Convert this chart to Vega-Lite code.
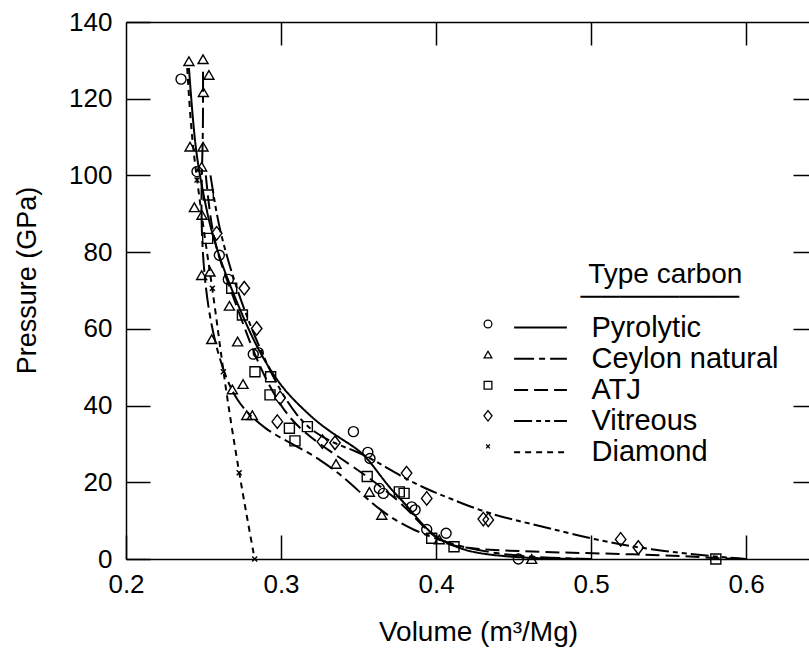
{
  "$schema": "https://vega.github.io/schema/vega-lite/v6.json",
  "width": 683,
  "height": 537,
  "autosize": {"type": "none"},
  "padding": {"left": 126, "top": 22, "right": 0, "bottom": 90},
  "background": "white",
  "config": {
    "view": {"stroke": null},
    "font": "Liberation Sans",
    "axis": {
      "grid": false,
      "domainColor": "black",
      "domainWidth": 1.5,
      "tickColor": "black",
      "tickWidth": 1.5,
      "labelColor": "black",
      "titleColor": "black",
      "labelFont": "Liberation Sans",
      "titleFont": "Liberation Sans",
      "labelFontSize": 26,
      "titleFontSize": 27,
      "titleFontWeight": "normal",
      "labelFlush": false,
      "labelOverlap": false
    }
  },
  "datasets": {
    "pts": [
      {"series": "pyrolytic", "v": 0.2355, "p": 125.1},
      {"series": "pyrolytic", "v": 0.2458, "p": 101.0},
      {"series": "pyrolytic", "v": 0.2602, "p": 79.2},
      {"series": "pyrolytic", "v": 0.266, "p": 72.9},
      {"series": "pyrolytic", "v": 0.2821, "p": 53.4},
      {"series": "pyrolytic", "v": 0.2853, "p": 53.8},
      {"series": "pyrolytic", "v": 0.3467, "p": 33.2},
      {"series": "pyrolytic", "v": 0.356, "p": 27.8},
      {"series": "pyrolytic", "v": 0.3574, "p": 26.2},
      {"series": "pyrolytic", "v": 0.3634, "p": 18.4},
      {"series": "pyrolytic", "v": 0.366, "p": 17.1},
      {"series": "pyrolytic", "v": 0.3843, "p": 13.6},
      {"series": "pyrolytic", "v": 0.3865, "p": 12.8},
      {"series": "pyrolytic", "v": 0.394, "p": 7.7},
      {"series": "pyrolytic", "v": 0.4065, "p": 6.7},
      {"series": "pyrolytic", "v": 0.4531, "p": 0.0},
      {"series": "ceylon natural", "v": 0.2406, "p": 129.8},
      {"series": "ceylon natural", "v": 0.2497, "p": 130.3},
      {"series": "ceylon natural", "v": 0.2535, "p": 126.2},
      {"series": "ceylon natural", "v": 0.2499, "p": 121.7},
      {"series": "ceylon natural", "v": 0.2413, "p": 107.5},
      {"series": "ceylon natural", "v": 0.2497, "p": 107.5},
      {"series": "ceylon natural", "v": 0.2488, "p": 102.3},
      {"series": "ceylon natural", "v": 0.2441, "p": 91.7},
      {"series": "ceylon natural", "v": 0.249, "p": 89.7},
      {"series": "ceylon natural", "v": 0.2488, "p": 74.0},
      {"series": "ceylon natural", "v": 0.2542, "p": 74.9},
      {"series": "ceylon natural", "v": 0.2667, "p": 66.0},
      {"series": "ceylon natural", "v": 0.2553, "p": 57.3},
      {"series": "ceylon natural", "v": 0.272, "p": 56.7},
      {"series": "ceylon natural", "v": 0.2686, "p": 44.2},
      {"series": "ceylon natural", "v": 0.2755, "p": 45.6},
      {"series": "ceylon natural", "v": 0.2779, "p": 37.5},
      {"series": "ceylon natural", "v": 0.2815, "p": 37.5},
      {"series": "ceylon natural", "v": 0.3355, "p": 24.8},
      {"series": "ceylon natural", "v": 0.357, "p": 17.5},
      {"series": "ceylon natural", "v": 0.365, "p": 11.5},
      {"series": "ceylon natural", "v": 0.4021, "p": 5.1},
      {"series": "ceylon natural", "v": 0.4617, "p": 0.0},
      {"series": "atj", "v": 0.2531, "p": 94.9},
      {"series": "atj", "v": 0.2527, "p": 83.6},
      {"series": "atj", "v": 0.2682, "p": 70.6},
      {"series": "atj", "v": 0.2751, "p": 63.6},
      {"series": "atj", "v": 0.2832, "p": 48.8},
      {"series": "atj", "v": 0.2933, "p": 47.5},
      {"series": "atj", "v": 0.2929, "p": 42.8},
      {"series": "atj", "v": 0.3054, "p": 34.1},
      {"series": "atj", "v": 0.317, "p": 34.5},
      {"series": "atj", "v": 0.309, "p": 30.8},
      {"series": "atj", "v": 0.3556, "p": 21.5},
      {"series": "atj", "v": 0.3763, "p": 17.5},
      {"series": "atj", "v": 0.3794, "p": 17.1},
      {"series": "atj", "v": 0.3972, "p": 5.4},
      {"series": "atj", "v": 0.4116, "p": 3.2},
      {"series": "atj", "v": 0.5805, "p": 0.0},
      {"series": "vitreous", "v": 0.2585, "p": 84.9},
      {"series": "vitreous", "v": 0.2763, "p": 70.6},
      {"series": "vitreous", "v": 0.2843, "p": 60.1},
      {"series": "vitreous", "v": 0.2994, "p": 42.0},
      {"series": "vitreous", "v": 0.2976, "p": 35.8},
      {"series": "vitreous", "v": 0.3267, "p": 30.6},
      {"series": "vitreous", "v": 0.3348, "p": 30.3},
      {"series": "vitreous", "v": 0.381, "p": 22.4},
      {"series": "vitreous", "v": 0.394, "p": 15.8},
      {"series": "vitreous", "v": 0.4305, "p": 10.4},
      {"series": "vitreous", "v": 0.4337, "p": 10.2},
      {"series": "vitreous", "v": 0.5191, "p": 5.1},
      {"series": "vitreous", "v": 0.5305, "p": 3.0},
      {"series": "diamond", "v": 0.2458, "p": 98.8},
      {"series": "diamond", "v": 0.2557, "p": 70.6},
      {"series": "diamond", "v": 0.2628, "p": 48.8},
      {"series": "diamond", "v": 0.273, "p": 22.5},
      {"series": "diamond", "v": 0.283, "p": 0.0}
    ],
    "fit": [
      {"type": "Pyrolytic", "v": 0.2406, "p": 128},
      {"type": "Pyrolytic", "v": 0.243, "p": 115},
      {"type": "Pyrolytic", "v": 0.2455, "p": 105},
      {"type": "Pyrolytic", "v": 0.249, "p": 97},
      {"type": "Pyrolytic", "v": 0.254, "p": 87},
      {"type": "Pyrolytic", "v": 0.26, "p": 79},
      {"type": "Pyrolytic", "v": 0.266, "p": 72.5},
      {"type": "Pyrolytic", "v": 0.275, "p": 63.5},
      {"type": "Pyrolytic", "v": 0.2858, "p": 54},
      {"type": "Pyrolytic", "v": 0.2994, "p": 45.2},
      {"type": "Pyrolytic", "v": 0.3123, "p": 39.8},
      {"type": "Pyrolytic", "v": 0.3252, "p": 35},
      {"type": "Pyrolytic", "v": 0.34, "p": 31},
      {"type": "Pyrolytic", "v": 0.352, "p": 28},
      {"type": "Pyrolytic", "v": 0.36, "p": 24},
      {"type": "Pyrolytic", "v": 0.37, "p": 18.5},
      {"type": "Pyrolytic", "v": 0.38, "p": 14.5},
      {"type": "Pyrolytic", "v": 0.39, "p": 9.5},
      {"type": "Pyrolytic", "v": 0.3983, "p": 6.2},
      {"type": "Pyrolytic", "v": 0.408, "p": 4.0},
      {"type": "Pyrolytic", "v": 0.4177, "p": 2.4},
      {"type": "Pyrolytic", "v": 0.43, "p": 1.3},
      {"type": "Pyrolytic", "v": 0.45, "p": 0.5},
      {"type": "Pyrolytic", "v": 0.47, "p": 0.1},
      {"type": "Pyrolytic", "v": 0.5, "p": 0.0},
      {"type": "Ceylon natural", "v": 0.2497, "p": 127},
      {"type": "Ceylon natural", "v": 0.2497, "p": 110},
      {"type": "Ceylon natural", "v": 0.2488, "p": 100},
      {"type": "Ceylon natural", "v": 0.2485, "p": 88},
      {"type": "Ceylon natural", "v": 0.25, "p": 76},
      {"type": "Ceylon natural", "v": 0.2531, "p": 65},
      {"type": "Ceylon natural", "v": 0.2585, "p": 54.5},
      {"type": "Ceylon natural", "v": 0.265, "p": 46.7},
      {"type": "Ceylon natural", "v": 0.2714, "p": 41.5},
      {"type": "Ceylon natural", "v": 0.28, "p": 37.3},
      {"type": "Ceylon natural", "v": 0.29, "p": 34},
      {"type": "Ceylon natural", "v": 0.3, "p": 31.5},
      {"type": "Ceylon natural", "v": 0.3123, "p": 28.9},
      {"type": "Ceylon natural", "v": 0.325, "p": 26},
      {"type": "Ceylon natural", "v": 0.34, "p": 21.5},
      {"type": "Ceylon natural", "v": 0.352, "p": 17},
      {"type": "Ceylon natural", "v": 0.3639, "p": 12.8},
      {"type": "Ceylon natural", "v": 0.375, "p": 9.8},
      {"type": "Ceylon natural", "v": 0.3854, "p": 7.6},
      {"type": "Ceylon natural", "v": 0.4, "p": 5.2},
      {"type": "Ceylon natural", "v": 0.42, "p": 2.8},
      {"type": "Ceylon natural", "v": 0.44, "p": 1.4},
      {"type": "Ceylon natural", "v": 0.46, "p": 0.5},
      {"type": "Ceylon natural", "v": 0.5, "p": 0.0},
      {"type": "ATJ", "v": 0.2515, "p": 100},
      {"type": "ATJ", "v": 0.254, "p": 90},
      {"type": "ATJ", "v": 0.2575, "p": 82},
      {"type": "ATJ", "v": 0.263, "p": 75},
      {"type": "ATJ", "v": 0.27, "p": 67.5},
      {"type": "ATJ", "v": 0.278, "p": 58.5},
      {"type": "ATJ", "v": 0.287, "p": 49.5},
      {"type": "ATJ", "v": 0.296, "p": 42.5},
      {"type": "ATJ", "v": 0.305, "p": 37},
      {"type": "ATJ", "v": 0.315, "p": 33},
      {"type": "ATJ", "v": 0.33, "p": 28.5},
      {"type": "ATJ", "v": 0.345, "p": 24.5},
      {"type": "ATJ", "v": 0.36, "p": 20.2},
      {"type": "ATJ", "v": 0.375, "p": 15.5},
      {"type": "ATJ", "v": 0.385, "p": 11.5},
      {"type": "ATJ", "v": 0.395, "p": 7},
      {"type": "ATJ", "v": 0.405, "p": 4.2},
      {"type": "ATJ", "v": 0.415, "p": 3.0},
      {"type": "ATJ", "v": 0.44, "p": 2.2},
      {"type": "ATJ", "v": 0.48, "p": 1.7},
      {"type": "ATJ", "v": 0.53, "p": 1.2},
      {"type": "ATJ", "v": 0.56, "p": 0.8},
      {"type": "ATJ", "v": 0.5805, "p": 0.2},
      {"type": "ATJ", "v": 0.6, "p": 0.0},
      {"type": "Vitreous", "v": 0.2545, "p": 100},
      {"type": "Vitreous", "v": 0.258, "p": 91},
      {"type": "Vitreous", "v": 0.2615, "p": 84},
      {"type": "Vitreous", "v": 0.27, "p": 72},
      {"type": "Vitreous", "v": 0.28, "p": 61},
      {"type": "Vitreous", "v": 0.29, "p": 51.5},
      {"type": "Vitreous", "v": 0.3, "p": 43.5},
      {"type": "Vitreous", "v": 0.31, "p": 37.5},
      {"type": "Vitreous", "v": 0.32, "p": 33.3},
      {"type": "Vitreous", "v": 0.335, "p": 30},
      {"type": "Vitreous", "v": 0.348, "p": 28.2},
      {"type": "Vitreous", "v": 0.36, "p": 25.8},
      {"type": "Vitreous", "v": 0.3768, "p": 21.7},
      {"type": "Vitreous", "v": 0.395, "p": 18},
      {"type": "Vitreous", "v": 0.409, "p": 15.8},
      {"type": "Vitreous", "v": 0.4305, "p": 12.3},
      {"type": "Vitreous", "v": 0.45, "p": 10.2},
      {"type": "Vitreous", "v": 0.4735, "p": 8},
      {"type": "Vitreous", "v": 0.5015, "p": 5.1},
      {"type": "Vitreous", "v": 0.538, "p": 2.4},
      {"type": "Vitreous", "v": 0.581, "p": 0.6},
      {"type": "Vitreous", "v": 0.6, "p": 0.0},
      {"type": "Diamond", "v": 0.2395, "p": 128},
      {"type": "Diamond", "v": 0.241, "p": 118},
      {"type": "Diamond", "v": 0.243, "p": 108},
      {"type": "Diamond", "v": 0.2458, "p": 99},
      {"type": "Diamond", "v": 0.25, "p": 86},
      {"type": "Diamond", "v": 0.2557, "p": 70.6},
      {"type": "Diamond", "v": 0.2595, "p": 59},
      {"type": "Diamond", "v": 0.2628, "p": 49},
      {"type": "Diamond", "v": 0.2675, "p": 36},
      {"type": "Diamond", "v": 0.273, "p": 22.5},
      {"type": "Diamond", "v": 0.278, "p": 11},
      {"type": "Diamond", "v": 0.283, "p": 0.0}
    ]
  },
  "layer": [
    {
      "layer": [
        {
          "data": {"name": "fit"},
          "mark": {"type": "line", "color": "black", "strokeWidth": 2, "interpolate": "basis"},
          "encoding": {
            "x": {
              "field": "v", "type": "quantitative",
              "scale": {"domain": [0.2, 0.6406], "nice": false, "zero": false},
              "axis": {
                "orient": "bottom", "values": [0.2, 0.3, 0.4, 0.5, 0.6], "format": ".1f",
                "tickSize": -24, "labelPadding": 36,
                "title": "Volume (m³/Mg)", "titleFontSize": 28, "titleX": 352, "titleY": 73, "titleBaseline": "middle"
              }
            },
            "y": {
              "field": "p", "type": "quantitative",
              "scale": {"domain": [0, 140], "nice": false, "zero": false},
              "axis": {
                "orient": "left", "values": [0, 20, 40, 60, 80, 100, 120, 140],
                "tickSize": -24, "labelPadding": 38,
                "title": "Pressure (GPa)", "titleX": -99, "titleY": 258, "titleBaseline": "middle", "titleAngle": -90
              }
            },
            "strokeDash": {
              "field": "type", "type": "nominal",
              "scale": {
                "domain": ["Pyrolytic", "Ceylon natural", "ATJ", "Vitreous", "Diamond"],
                "range": [[1, 0], [20, 5, 6, 5], [14, 6], [18, 4, 5, 4, 5, 4], [6, 5]]
              },
              "legend": {
                "orient": "none", "legendX": 400, "legendY": 239,
                "title": ["\u200b\u00a0\u00a0\u00a0\u00a0\u00a0\u00a0\u00a0\u00a0Type carbon", "\u200b\u00a0\u00a0\u00a0\u00a0\u00a0\u00a0\u00a0────────"],
                "titleFont": "Liberation Sans", "titleFontSize": 28, "titleFontWeight": "normal", "titleColor": "black",
                "titleLineHeight": 22, "titlePadding": 2, "titleLimit": 500,
                "symbolType": "M-4.8,0H4.8", "symbolSize": 121, "symbolStrokeWidth": 2, "symbolStrokeColor": "black",
                "labelFont": "Liberation Sans", "labelFontSize": 29, "labelColor": "black", "labelOffset": 36.5, "labelLimit": 500,
                "rowPadding": 1.2
              }
            },
            "order": {"field": "p", "sort": "descending"}
          }
        },
        {
          "data": {"name": "pts"},
          "mark": {"type": "point", "filled": false, "color": "black", "strokeWidth": 1.4, "opacity": 1, "size": 100},
          "encoding": {
            "x": {"field": "v", "type": "quantitative"},
            "y": {"field": "p", "type": "quantitative"},
            "shape": {
              "field": "series", "type": "nominal",
              "scale": {
                "domain": ["pyrolytic", "ceylon natural", "atj", "vitreous", "diamond"],
                "range": ["circle", "triangle-up", "square", "M0,-1.35L1.05,0L0,1.35L-1.05,0Z", "M-0.5,-0.5L0.5,0.5M-0.5,0.5L0.5,-0.5"]
              },
              "legend": {
                "orient": "none", "legendX": 348, "legendY": 288,
                "title": null, "labelExpr": "''",
                "symbolSize": 60, "symbolStrokeWidth": 1.3, "symbolStrokeColor": "black", "symbolFillColor": "transparent",
                "labelFontSize": 28, "rowPadding": 2.6
              }
            }
          }
        }
      ]
    },
    {
      "data": {"name": "fit"},
      "mark": {"type": "point", "opacity": 0},
      "encoding": {
        "x": {
          "field": "v", "type": "quantitative",
          "scale": {"domain": [0.2, 0.6406], "nice": false, "zero": false},
          "axis": {"orient": "top", "values": [0.3, 0.4, 0.5, 0.6], "labels": false, "tickSize": -23, "title": null}
        },
        "y": {
          "field": "p", "type": "quantitative",
          "scale": {"domain": [0, 140], "nice": false, "zero": false},
          "axis": {"orient": "right", "values": [20, 40, 60, 80, 100, 120], "labels": false, "tickSize": -16, "domain": false, "title": null}
        }
      }
    }
  ],
  "resolve": {"scale": {"x": "independent", "y": "independent"}}
}
